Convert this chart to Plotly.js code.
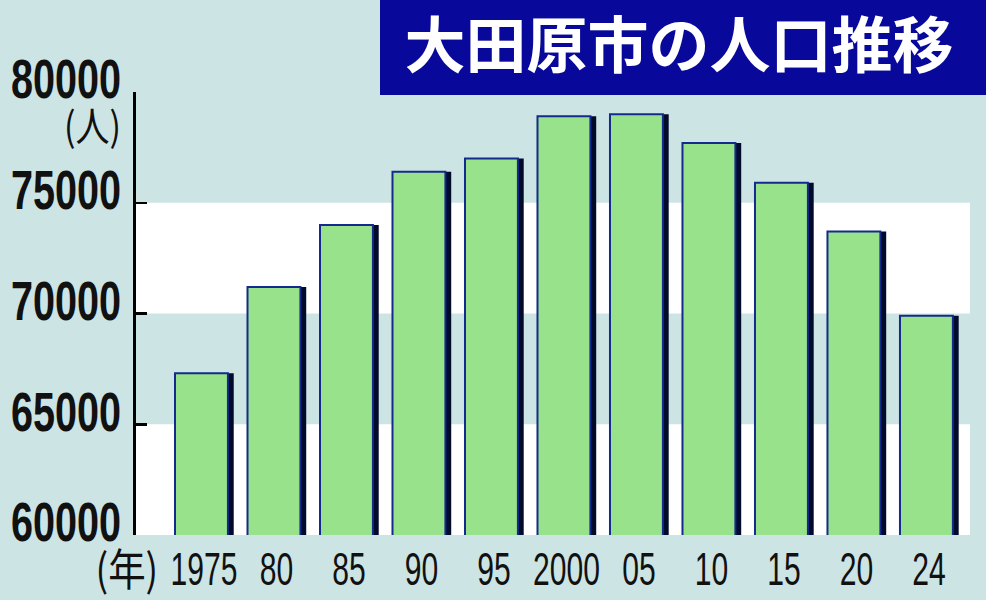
<!DOCTYPE html>
<html><head><meta charset="utf-8">
<script src="https://cdn.plot.ly/plotly-3.0.1.min.js"></script>
<style>html,body{margin:0;padding:0;background:#cde4e4;}#chart{width:986px;height:600px;}</style>
</head><body><div id="chart"></div>
<script>
const years = ['1975','80','85','90','95','2000','05','10','15','20','24'];
const population = [67300, 71200, 74000, 76400, 77000, 78900, 79000, 77700, 75900, 73700, 69900];
const yTicks = [60000, 65000, 70000, 75000, 80000];
const titleText = '大田原市の人口推移';

const L = 136, R = 970, T = 92, B = 535, W = 986, H = 600;
const px = v => (v - L) / (R - L);
const py = v => (B - v) / (B - T);
const numFont = '"Liberation Sans", Arial, sans-serif';

const shadow = {
  type: 'bar', x: years, y: population,
  offset: -0.4, width: 0.81,
  marker: {color: '#000a2a', line: {width: 0}},
  hoverinfo: 'skip', showlegend: false
};
const main = {
  type: 'bar', x: years, y: population,
  offset: -0.4, width: 0.73,
  marker: {color: '#98e28c', line: {color: '#142a8c', width: 2}},
  showlegend: false
};

const layout = {
  width: W, height: H,
  margin: {l: L, r: W - R, t: T, b: H - B, pad: 0},
  paper_bgcolor: '#cde4e4', plot_bgcolor: '#cde4e4',
  barmode: 'overlay',
  font: {family: numFont, color: '#111'},
  title: {text: titleText, x: 679 / W, y: 1 - 47 / H, xanchor: 'center', yanchor: 'middle',
    font: {family: '"Noto Sans CJK JP", sans-serif', size: 61, color: '#ffffff', weight: 'bold'}},
  xaxis: {type: 'category', range: [-0.938, 10.566], showline: false, showgrid: false, zeroline: false,
    ticks: '', tickangle: 0, automargin: false, ticklabelstandoff: 2,
    tickfont: {size: 47, family: numFont, color: '#111'},
    fixedrange: true},
  yaxis: {range: [60000, 80000], showgrid: false, zeroline: false, showline: true, linecolor: '#000', linewidth: 3,
    ticks: 'inside', ticklen: 11, tickwidth: 2.5, tickcolor: '#000', automargin: false,
    tickvals: yTicks, ticktext: yTicks.map(String),
    ticklabelshift: -13, ticklabelstandoff: 1,
    tickfont: {size: 55, family: numFont, color: '#111', weight: 'bold'},
    fixedrange: true},
  shapes: [
    {type: 'rect', xref: 'paper', yref: 'y', x0: 0, x1: 1, y0: 60000, y1: 65000, fillcolor: '#ffffff', line: {width: 0}, layer: 'below'},
    {type: 'rect', xref: 'paper', yref: 'y', x0: 0, x1: 1, y0: 70000, y1: 75000, fillcolor: '#ffffff', line: {width: 0}, layer: 'below'},
    {type: 'rect', xref: 'paper', yref: 'paper', x0: px(380), x1: px(986), y0: py(95), y1: py(0), fillcolor: '#08089a', line: {width: 0}, layer: 'above'}
  ],
  annotations: [
    {text: '(人)', xref: 'paper', yref: 'paper', x: px(128), y: py(124), xanchor: 'right', yanchor: 'middle', showarrow: false,
      font: {family: '"Noto Sans CJK JP", sans-serif', size: 40, color: '#111'}},
    {text: '(年)', xref: 'paper', yref: 'paper', x: px(166), y: py(567), xanchor: 'right', yanchor: 'middle', showarrow: false,
      font: {family: '"Noto Sans CJK JP", sans-serif', size: 44, color: '#111'}}
  ]
};

function squeeze(sel, f) {
  document.querySelectorAll(sel).forEach(el => {
    const w = el.getComputedTextLength();
    if (w > 0) {
      el.setAttribute('textLength', (w * f).toFixed(1));
      el.setAttribute('lengthAdjust', 'spacingAndGlyphs');
    }
  });
}
Plotly.newPlot('chart', [shadow, main], layout, {displayModeBar: false, staticPlot: true}).then(() => {
  squeeze('.ytick text', 0.72);
  squeeze('.xtick text', 0.64);
  squeeze('.annotation-text', 0.85);
});
</script></body></html>
